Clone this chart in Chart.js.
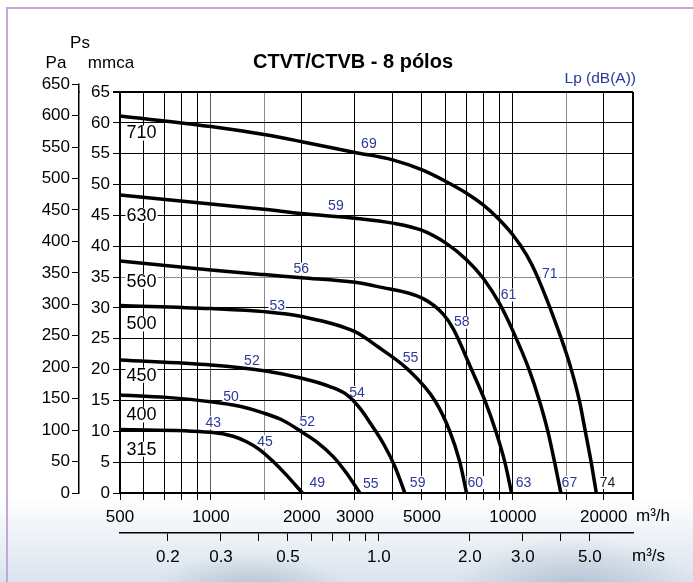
<!DOCTYPE html>
<html>
<head>
<meta charset="utf-8">
<script src="https://cdn.jsdelivr.net/npm/chart.js@4.4.1/dist/chart.umd.min.js"></script>
<style>
  html, body { margin: 0; padding: 0; background: #fff; }
  #wrap {
    position: relative; width: 693px; height: 582px; overflow: hidden;
    background:
      radial-gradient(ellipse 95px 40px at 250px 592px, rgba(120,138,158,0.40), rgba(120,138,158,0) 100%),
      radial-gradient(ellipse 120px 55px at 575px 590px, rgba(120,140,165,0.40), rgba(120,140,165,0) 100%),
      linear-gradient(to bottom, rgba(215,226,238,0) 0px, rgba(215,226,238,0) 495px, rgba(205,218,232,0.75) 582px),
      #fff;
  }
  #frame {
    position: absolute; left: 6px; top: 7px; width: 700px; height: 600px;
    border-left: 2px solid #c2a8d8; border-top: 2px solid #c2a8d8;
  }
  canvas { position: absolute; left: 0; top: 0; }
</style>
</head>
<body>
<div id="wrap">
  <div id="frame"></div>
  <canvas id="c" width="693" height="582"></canvas>
</div>
<script>
// Fan curves CTVT/CTVB, 8 poles: static pressure (mmca) vs. air flow (m3/h)
const FLOW_315 = [500, 1000, 1185, 1313, 1453, 1608, 1780, 2010];
const PS_315   = [10.3, 9.85, 9.2, 8.3, 7.0, 5.1, 2.9, 0];

const FLOW_400 = [500, 713, 998, 1247, 1498, 1735, 2007, 2240, 2541, 2815, 3114];
const PS_400   = [15.9, 15.5, 14.8, 14.05, 12.95, 11.75, 9.85, 8.3, 5.9, 3.2, 0];

const FLOW_450 = [500, 1000, 1500, 2000, 2478, 2842, 3114, 3388, 3740, 4067, 4389];
const PS_450   = [21.55, 20.75, 19.8, 18.6, 17.26, 15.8, 13.75, 11.18, 7.86, 4.3, 0];

const FLOW_500 = [500, 1000, 1500, 2000, 3000, 3573, 4500, 5515, 6184, 6676, 7025];
const PS_500   = [30.4, 29.9, 29.4, 28.6, 26.15, 23.7, 20.0, 15.0, 10.0, 5.0, 0];

const FLOW_560 = [500, 1000, 1500, 2000, 3000, 3573, 5046, 5878, 6350, 7300, 8078, 8782, 9408, 9901];
const PS_560   = [37.6, 36.15, 35.4, 34.9, 34.15, 33.45, 31.5, 29.0, 26.6, 20.0, 15.0, 10.0, 5.0, 0];

const FLOW_630 = [500, 1000, 1500, 2000, 3000, 4000, 4986, 6000, 7025, 7975, 9057, 10020, 11320, 12240, 13060, 13750, 14420];
const PS_630   = [48.3, 46.85, 46.0, 45.3, 44.55, 43.75, 42.6, 40.5, 37.8, 34.8, 30.6, 26.2, 20.0, 15.0, 10.0, 5.0, 0];

const FLOW_710 = [500, 1000, 1500, 2000, 3000, 4000, 4986, 6000, 7025, 7975, 8940, 9977, 11100, 11980, 14500, 15620, 16600, 17380, 18170, 18900];
const PS_710   = [61.1, 59.4, 58.1, 56.95, 55.2, 54.0, 52.4, 50.5, 48.6, 46.7, 44.5, 41.9, 38.6, 35.4, 24.9, 20.0, 15.0, 10.0, 5.0, 0];

// Sound pressure level Lp dB(A), anchored at (flow m3/h, pressure mmca)
const LP_315 = [{ q: 1018, ps: 11.4, db: '43' }, { q: 1510, ps: 8.3, db: '45' }, { q: 2249, ps: 1.7, db: '49' }];
const LP_400 = [{ q: 1165, ps: 15.6, db: '50' }, { q: 2084, ps: 11.5, db: '52' }, { q: 3382, ps: 1.5, db: '55' }];
const LP_450 = [{ q: 1367, ps: 21.4, db: '52' }, { q: 3049, ps: 16.3, db: '54' }, { q: 4839, ps: 1.7, db: '59' }];
const LP_500 = [{ q: 1658, ps: 30.4, db: '53' }, { q: 4585, ps: 21.9, db: '55' }, { q: 7512, ps: 1.7, db: '60' }];
const LP_560 = [{ q: 1991, ps: 36.3, db: '56' }, { q: 6779, ps: 27.7, db: '58' }, { q: 10850, ps: 1.7, db: '63' }];
const LP_630 = [{ q: 2594, ps: 46.6, db: '59' }, { q: 9678, ps: 32.1, db: '61' }, { q: 15390, ps: 1.7, db: '67' }];
const LP_710 = [{ q: 3336, ps: 56.6, db: '69' }, { q: 13260, ps: 35.5, db: '71' }, { q: 20590, ps: 1.7, db: '74' }];

// Fan size tags, anchored at (flow, pressure)
const SIZE_NAMES = ['315', '400', '450', '500', '560', '630', '710'];
const SIZE_TAG_Q = 589;
const SIZE_TAG_PS = [7.1, 12.65, 19.1, 27.4, 34.25, 45.0, 58.35];

// Axis ticks
const Q_GRID   = [500, 600, 700, 800, 900, 1000, 1500, 2000, 3000, 4000, 5000, 6000, 7000, 8000, 9000, 10000, 15000, 20000, 25000];
const Q_LABELS = [500, 1000, 2000, 3000, 5000, 10000, 20000];
const QS_TICKS  = [0.2, 0.3, 0.4, 0.5, 0.6, 0.7, 0.8, 0.9, 1.0, 2.0, 3.0, 4.0, 5.0];
const QS_LABELS = [0.2, 0.3, 0.5, 1.0, 2.0, 3.0, 5.0];
const MM_TICKS = [0, 5, 10, 15, 20, 25, 30, 35, 40, 45, 50, 55, 60, 65];
const PA_TICKS = [0, 50, 100, 150, 200, 250, 300, 350, 400, 450, 500, 550, 600, 650];

const PA_PER_MMCA = 9.80665;
const Q_MIN = 500, Q_MAX = 25000, MM_MAX = 65;

const FONT = "'Liberation Sans', Arial, Helvetica, sans-serif";
const BLUE = '#2b3a9a';
Chart.defaults.font.family = FONT;
Chart.defaults.color = '#000';

const CURVES = [
  [FLOW_315, PS_315, LP_315], [FLOW_400, PS_400, LP_400], [FLOW_450, PS_450, LP_450],
  [FLOW_500, PS_500, LP_500], [FLOW_560, PS_560, LP_560], [FLOW_630, PS_630, LP_630],
  [FLOW_710, PS_710, LP_710]
];

const datasets = CURVES.map((c, i) => ({
  label: SIZE_NAMES[i],
  data: c[0].map((q, k) => ({ x: q, y: c[1][k] })),
  borderColor: '#000',
  borderWidth: 3.5,
  pointRadius: 0,
  fill: false,
  cubicInterpolationMode: 'monotone',
  xAxisID: 'x',
  yAxisID: 'y'
}));

function alignPx(p, w) { return Math.round(p - w / 2) + w / 2; }

// Labels sit over the grid (white backing) but under the curves
const annotate = {
  id: 'annotate',
  beforeDatasetsDraw(chart) {
    const ctx = chart.ctx, xs = chart.scales.x, ys = chart.scales.y;
    ctx.save();
    ctx.textAlign = 'center';
    ctx.textBaseline = 'middle';
    ctx.font = '14px ' + FONT;
    CURVES.forEach(c => {
      c[2].forEach(l => {
        const px = xs.getPixelForValue(l.q), py = ys.getPixelForValue(l.ps);
        const w = ctx.measureText(l.db).width;
        ctx.fillStyle = '#fff';
        ctx.fillRect(px - w / 2 - 1, py - 6.5, w + 2, 13);
        ctx.fillStyle = l.db === '74' ? '#1c1c2c' : BLUE;
        ctx.fillText(l.db, px, py + 0.5);
      });
    });
    ctx.font = '18px ' + FONT;
    SIZE_NAMES.forEach((name, i) => {
      const px = xs.getPixelForValue(SIZE_TAG_Q), py = ys.getPixelForValue(SIZE_TAG_PS[i]);
      const w = ctx.measureText(name).width;
      ctx.fillStyle = '#fff';
      ctx.fillRect(px - w / 2 - 1, py - 7.5, w + 2, 15);
      ctx.fillStyle = '#000';
      ctx.fillText(name, px, py + 0.5);
    });
    ctx.restore();
  },
  afterDraw(chart) {
    const ctx = chart.ctx, pa = chart.scales.pa, xs = chart.scales.x, qs = chart.scales.qs;
    ctx.save();
    // Pa axis continues up to 650 above the plot frame
    const bx = alignPx(pa.right, 1.5);
    const yTop = pa.getPixelForValue(PA_TICKS[PA_TICKS.length - 1]);
    const yMax = pa.getPixelForValue(pa.max);
    ctx.strokeStyle = '#000';
    ctx.lineWidth = 1.5;
    ctx.beginPath();
    ctx.moveTo(bx, yMax + 1); ctx.lineTo(bx, yTop - 0.5);
    ctx.stroke();
    ctx.lineWidth = 1;
    ctx.beginPath();
    ctx.moveTo(pa.right - 7, Math.round(yTop) + 0.5); ctx.lineTo(pa.right, Math.round(yTop) + 0.5);
    ctx.stroke();
    ctx.fillStyle = '#000';
    ctx.font = '17px ' + FONT;
    ctx.textAlign = 'right';
    ctx.textBaseline = 'middle';
    ctx.fillText(String(PA_TICKS[PA_TICKS.length - 1]), pa.right - 9, yTop);

    // axis captions
    ctx.textAlign = 'center';
    ctx.fillText('Ps', 80, 43);
    ctx.fillText('Pa', 56, 63);
    ctx.fillText('mmca', 111, 63);
    ctx.textAlign = 'left';
    ctx.fillText('m³/h', xs.right + 3, 516);
    ctx.fillText('m³/s', qs.right - 1, 556);

    // title
    ctx.font = 'bold 20px ' + FONT;
    ctx.textAlign = 'center';
    ctx.fillText('CTVT/CTVB - 8 pólos', 353, 62);

    // Lp caption
    ctx.font = '15.5px ' + FONT;
    ctx.fillStyle = BLUE;
    ctx.textAlign = 'right';
    ctx.fillText('Lp (dB(A))', 636, 79);
    ctx.restore();
  }
};

function qGridColor(v) {
  if (v === 1500 || v === 15000) return '#8a8a8a';
  if (v === 1000) return '#5a5a5a';
  return '#000';
}

new Chart(document.getElementById('c'), {
  type: 'line',
  data: { datasets },
  options: {
    responsive: false,
    animation: false,
    devicePixelRatio: 1,
    layout: { padding: { left: 10, right: 60, top: 92, bottom: 0 } },
    plugins: { legend: { display: false }, tooltip: { enabled: false }, title: { display: false } },
    scales: {
      x: {
        type: 'logarithmic', position: 'bottom', weight: 0,
        min: Q_MIN, max: Q_MAX,
        afterBuildTicks: s => { s.ticks = Q_GRID.map(v => ({ value: v })); },
        afterFit: s => { s.height = 40; },
        ticks: {
          autoSkip: false, maxRotation: 0, minRotation: 0, padding: 7,
          color: '#000', font: { size: 17 },
          callback: v => Q_LABELS.includes(v) ? String(v) : ''
        },
        grid: {
          color: c => qGridColor(c.tick && c.tick.value),
          tickColor: c => (c.tick && c.tick.value === 1500) ? '#8a8a8a' : '#000',
          lineWidth: c => (c.tick && c.tick.value === Q_MAX) ? 2 : 1,
          tickLength: 7, drawTicks: true
        },
        border: { color: '#000', width: 2 }
      },
      qs: {
        type: 'logarithmic', position: 'bottom', weight: 1,
        min: Q_MIN / 3600, max: Q_MAX / 3600,
        afterBuildTicks: s => { s.ticks = QS_TICKS.map(v => ({ value: v })); },
        afterFit: s => { s.height = 49; },
        ticks: {
          autoSkip: false, maxRotation: 0, minRotation: 0, padding: 6,
          color: '#000', font: { size: 17 },
          callback: v => QS_LABELS.includes(v) ? v.toFixed(1) : ''
        },
        grid: { drawOnChartArea: false, drawTicks: true, tickLength: 8, color: '#000' },
        border: { color: '#000', width: 1.5 }
      },
      y: {
        type: 'linear', position: 'left', weight: 0,
        min: 0, max: MM_MAX,
        afterBuildTicks: s => { s.ticks = MM_TICKS.map(v => ({ value: v })); },
        afterFit: s => { s.width = 41; },
        ticks: { padding: 3, color: '#000', font: { size: 17 } },
        grid: {
          color: c => (c.tick && c.tick.value === 35) ? '#8a8a8a' : '#000',
          tickColor: '#000',
          lineWidth: c => (c.tick && c.tick.value === MM_MAX) ? 2 : 1,
          tickLength: 7
        },
        border: { color: '#000', width: 2 }
      },
      pa: {
        type: 'linear', position: 'left', weight: 1,
        min: 0, max: MM_MAX * PA_PER_MMCA,
        afterBuildTicks: s => { s.ticks = PA_TICKS.filter(v => v <= s.max).map(v => ({ value: v })); },
        afterFit: s => { s.width = 69; },
        ticks: { padding: 2, color: '#000', font: { size: 17 } },
        grid: { drawOnChartArea: false, drawTicks: true, tickLength: 7, color: '#000' },
        border: { color: '#000', width: 1.5 }
      }
    }
  },
  plugins: [annotate]
});
</script>
</body>
</html>
